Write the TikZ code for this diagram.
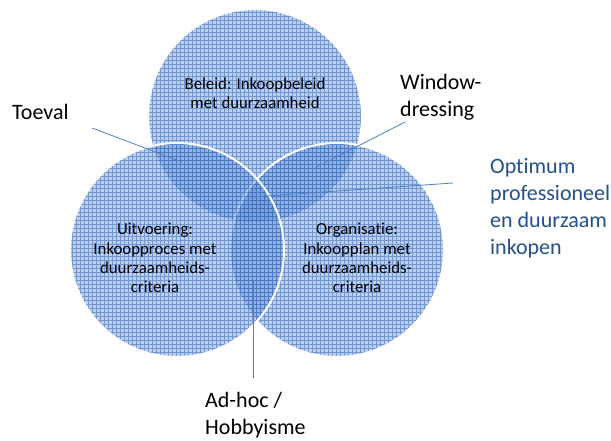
\documentclass[tikz,border=0pt]{standalone}
\usepackage{fontspec}
\setmainfont[Ligatures={NoCommon}]{Carlito}
\definecolor{circfill}{RGB}{95,140,210}
\definecolor{gridc}{RGB}{55,105,185}
\definecolor{linec}{RGB}{79,129,189}
\definecolor{darkblue}{RGB}{35,80,140}
\begin{document}
\begin{tikzpicture}[x=1pt,y=-1pt,
  circlabel/.style={align=center, inner sep=0pt, font=\fontsize{16.8}{19.3}\selectfont, text=black},
  outlabel/.style={align=left, inner sep=0pt, anchor=west, font=\fontsize{22}{27}\selectfont, text=black},
  connector/.style={draw=linec, line width=0.8pt}]
\useasboundingbox (0,0) rectangle (611,441);
% circles: top, right, left
\foreach \cx/\cy in {255/116, 337/250, 177/250}{
  \fill[circfill, fill opacity=0.42] (\cx,\cy) circle[radius=107];
  \begin{scope}
    \clip (\cx,\cy) circle[radius=107];
    \draw[gridc, opacity=0.55, line width=0.5pt, step=4pt] (\cx-110,\cy-110) grid (\cx+110,\cy+110);
  \end{scope}
  \draw[white, line width=2pt] (\cx,\cy) circle[radius=107];
}
% circle labels
\node[circlabel] (beleid) at (255,93) {Beleid: Inkoopbeleid\\met duurzaamheid};
\node[circlabel] (uitv) at (155,258) {Uitvoering:\\Inkoopproces met\\duurzaamheids-\\criteria};
\node[circlabel] (org) at (357,258) {Organisatie:\\Inkoopplan met\\duurzaamheids-\\criteria};
% outer labels
\node[outlabel] (toeval) at (12,112) {Toeval};
\node[outlabel] (window) at (400,97) {Window-\\dressing};
\node[outlabel, text=darkblue] (optimum) at (490,208) {Optimum\\professioneel\\en duurzaam\\inkopen};
\node[outlabel] (adhoc) at (205,415) {Ad-hoc /\\Hobbyisme};
% connector ends
\coordinate (t1) at (92,128);
\coordinate (t2) at (182,162);
\coordinate (w1) at (405,122);
\coordinate (w2) at (315,168);
\coordinate (o1) at (453,183);
\coordinate (o2) at (252,197);
\coordinate (a1) at (253,378);
\coordinate (a2) at (253,280);
\draw[connector] (t1) -- (t2);
\draw[connector] (w1) -- (w2);
\draw[connector] (o1) -- (o2);
\draw[connector] (a1) -- (a2);
\end{tikzpicture}
\end{document}
